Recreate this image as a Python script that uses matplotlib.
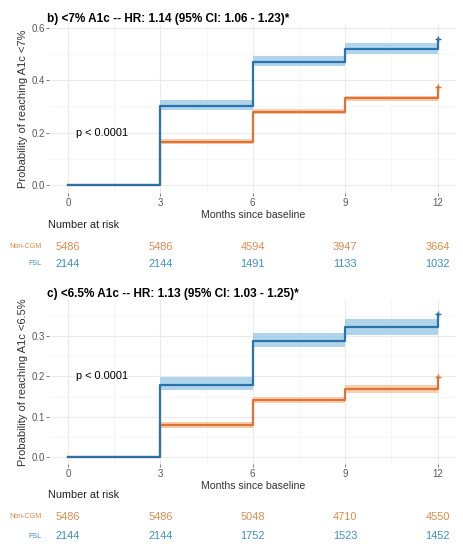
import matplotlib
matplotlib.use("Agg")
import matplotlib.pyplot as plt
import matplotlib.transforms as mtransforms

plt.rcParams['font.family'] = ['Liberation Sans', 'DejaVu Sans']

months = [0, 3, 6, 9, 12]

# panel b: <7% A1c
fsl_b = [0, 0.30, 0.47, 0.52, 0.555]
fsl_b_lo = [0, 0.286, 0.455, 0.50, 0.535]
fsl_b_hi = [0, 0.325, 0.49, 0.54, 0.575]
noncgm_b = [0, 0.165, 0.28, 0.33, 0.372]
noncgm_b_lo = [0, 0.155, 0.27, 0.32, 0.36]
noncgm_b_hi = [0, 0.175, 0.29, 0.34, 0.385]
risk_noncgm_b = [5486, 5486, 4594, 3947, 3664]
risk_fsl_b = [2144, 2144, 1491, 1133, 1032]

# panel c: <6.5% A1c
fsl_c = [0, 0.18, 0.288, 0.322, 0.355]
fsl_c_lo = [0, 0.166, 0.273, 0.303, 0.335]
fsl_c_hi = [0, 0.198, 0.308, 0.342, 0.375]
noncgm_c = [0, 0.079, 0.141, 0.169, 0.198]
noncgm_c_lo = [0, 0.072, 0.133, 0.160, 0.188]
noncgm_c_hi = [0, 0.086, 0.149, 0.178, 0.208]
risk_noncgm_c = [5486, 5486, 5048, 4710, 4550]
risk_fsl_c = [2144, 2144, 1752, 1523, 1452]

blue = '#2a72a8'
blue_band = '#9ecae9'
orange = '#dc7435'
orange_band = '#f6c29c'
blue_txt = '#3d8fc6'
orange_txt = '#e08a4c'

W, H = 464, 556
fig = plt.figure(figsize=(W / 100, H / 100), dpi=100)


def px_axes(left, top, right, bottom):
    return fig.add_axes([left / W, 1 - bottom / H, (right - left) / W, (bottom - top) / H])


def draw_panel(ax, fsl, fsl_lo, fsl_hi, non, non_lo, non_hi, ylim, yticks, minor, title, ylabel):
    ax.fill_between(months, non_lo, non_hi, step='post', color=orange_band, alpha=0.8, lw=0)
    ax.fill_between(months, fsl_lo, fsl_hi, step='post', color=blue_band, alpha=0.8, lw=0)
    ax.plot(months, non, drawstyle='steps-post', color=orange, lw=1.6)
    ax.plot(months, fsl, drawstyle='steps-post', color=blue, lw=1.6)
    ax.plot([months[-1]], [non[-1]], '+', color=orange, ms=4, mew=1)
    ax.plot([months[-1]], [fsl[-1]], '+', color=blue, ms=4, mew=1)
    ax.set_xlim(-0.6, 12.6)
    ax.set_ylim(*ylim)
    ax.set_xticks(months)
    ax.set_xticks([1.5, 4.5, 7.5, 10.5], minor=True)
    ax.set_yticks(yticks)
    ax.set_yticks(minor, minor=True)
    ax.set_yticklabels(['%.1f' % v for v in yticks])
    for s in ax.spines.values():
        s.set_visible(False)
    ax.grid(True, which='major', color='#ebebeb', lw=0.8)
    ax.grid(True, which='minor', color='#f4f4f4', lw=0.5)
    ax.set_axisbelow(True)
    ax.tick_params(which='major', length=2, width=0.6, color='#666666', labelsize=7,
                   labelcolor='#5a5a5a', pad=1.5)
    ax.tick_params(which='minor', length=0)
    ax.set_title(title, loc='left', fontsize=8.5, fontweight='bold', pad=2.5, x=-0.005)
    ax.set_ylabel(ylabel, fontsize=8, color='#333333', labelpad=2)
    ax.set_xlabel('Months since baseline', fontsize=7.6, color='#333333', labelpad=1.5)
    ax.text(0.25, 0.2, 'p < 0.0001', fontsize=7.9, va='center', ha='left')


def risk_table(ax, y_head, y_non, y_fsl, non, fsl):
    tr = mtransforms.blended_transform_factory(ax.transData, fig.transFigure)
    fig.text(48 / W, 1 - y_head / H, 'Number at risk', fontsize=7.8, va='center', ha='left',
             color='#222222')
    fig.text(42 / W, 1 - y_non / H, 'Non-CGM', fontsize=5.1, va='center', ha='right',
             color=orange_txt)
    fig.text(42 / W, 1 - y_fsl / H, 'FSL', fontsize=5.1, va='center', ha='right',
             color=blue_txt)
    for m, a, b in zip(months, non, fsl):
        ax.text(m, 1 - y_non / H, str(a), transform=tr, fontsize=7.9, color=orange_txt,
                ha='center', va='center')
        ax.text(m, 1 - y_fsl / H, str(b), transform=tr, fontsize=7.9, color=blue_txt,
                ha='center', va='center')


ax1 = px_axes(49.5, 25, 456, 193)
draw_panel(ax1, fsl_b, fsl_b_lo, fsl_b_hi, noncgm_b, noncgm_b_lo, noncgm_b_hi,
           (-0.0305, 0.61), [0.0, 0.2, 0.4, 0.6], [0.1, 0.3, 0.5],
           'b) <7% A1c -- HR: 1.14 (95% CI: 1.06 - 1.23)*', 'Probability of reaching A1c <7%')
risk_table(ax1, 225, 247, 264, risk_noncgm_b, risk_fsl_b)

ax2 = px_axes(49.5, 300, 456, 464)
draw_panel(ax2, fsl_c, fsl_c_lo, fsl_c_hi, noncgm_c, noncgm_c_lo, noncgm_c_hi,
           (-0.0174, 0.39), [0.0, 0.1, 0.2, 0.3], [0.05, 0.15, 0.25, 0.35],
           'c) <6.5% A1c -- HR: 1.13 (95% CI: 1.03 - 1.25)*', 'Probability of reaching A1c <6.5%')
risk_table(ax2, 495, 517, 536, risk_noncgm_c, risk_fsl_c)

fig.savefig('out.png', dpi=100)
